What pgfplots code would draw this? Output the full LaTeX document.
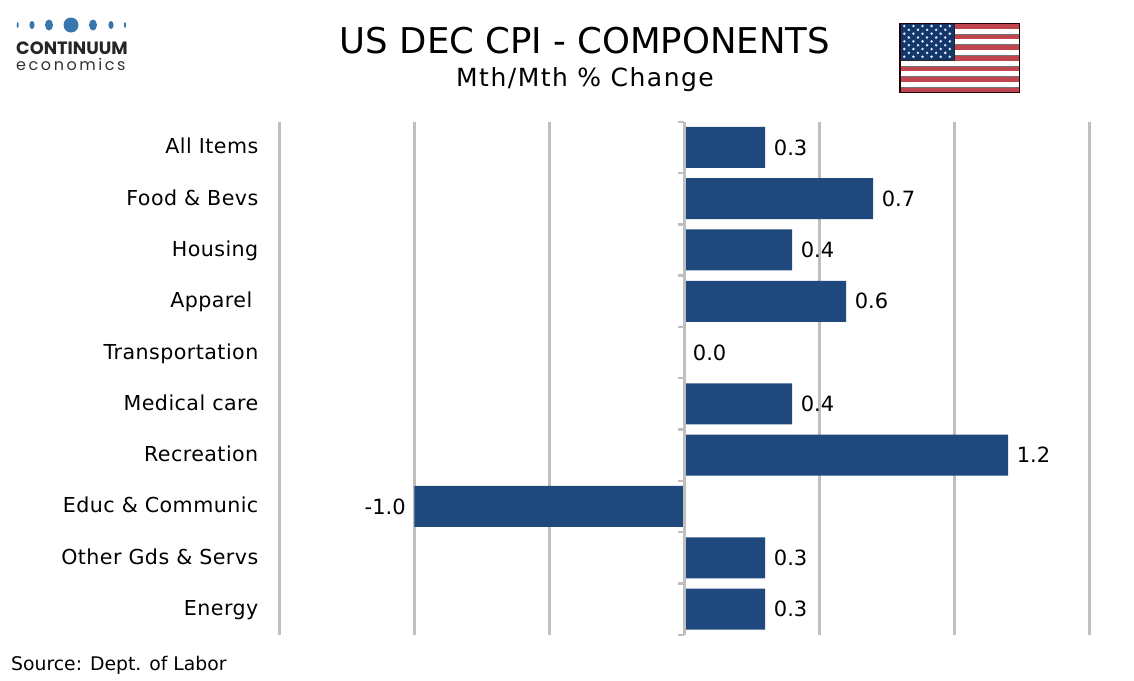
\documentclass[border=0pt]{standalone}
\usepackage{pgfplots}
\pgfplotsset{compat=1.18}
\usepackage{fontspec}
\setmainfont{DejaVu Sans}
\newfontfamily\catfont[LetterSpace=2.2]{DejaVu Sans}
\newfontfamily\logofont{Poppins}
\newfontfamily\logolight[LetterSpace=16]{Poppins}
\definecolor{barblue}{HTML}{1F497D}
\definecolor{gridgray}{HTML}{BFBFBF}
\definecolor{logoblue}{HTML}{3A76AE}
\definecolor{flagred}{HTML}{C0454F}
\definecolor{flagblue}{HTML}{14376A}
\newcommand{\fs}[1]{\fontsize{#1}{#1}\selectfont}
\begin{document}
\begin{tikzpicture}[x=1pt,y=1pt]
\useasboundingbox (0,0) rectangle (1134,-680);
% logo
\foreach \cx/\rx/\ry in {17.7/1/3,32/2.6/4,49/4/5.5,71/7.5/7.5,93/4/5.5,111/2.6/4,125/1/3}
  \fill[logoblue] (\cx,-25) ellipse [x radius=\rx, y radius=\ry];
\node[anchor=base west,inner sep=0pt,text=black!85] at (16,-54) {\logofont\fs{17.8}\textbf{CONTINUUM}};
\node[anchor=base west,inner sep=0pt,text=black!80] at (16,-70) {\logolight\fs{16}economics};
% titles
\node[anchor=base,inner sep=0pt] at (585,-53) {\fs{35.5}US DEC CPI - COMPONENTS};
\node[anchor=base,inner sep=0pt] at (585,-86) {\addfontfeatures{LetterSpace=6}\fs{25}Mth/Mth \% Change};
% flag
\fill[white] (900,-23.3) rectangle (1019.5,-92.5);
\foreach \i in {0,2,4,6,8,10,12}
  \fill[flagred] (900,{-23.3-\i*5.323}) rectangle (1019.5,{-23.3-(\i+1)*5.323});
\foreach \i in {2,4,6,8,10,12}
  \draw[black!55,line width=0.7pt] (900,{-23.3-\i*5.323}) -- (1019.5,{-23.3-\i*5.323});
\fill[flagblue] (900,-23.3) rectangle (954,-60.5);
\foreach \r in {0,2,4,6,8} \foreach \c in {0,...,5}
  \fill[white!90!blue] ({904.3+\c*9.1},{-26-\r*3.84}) circle (1.4);
\foreach \r in {1,3,5,7} \foreach \c in {0,...,4}
  \fill[white!90!blue] ({908.85+\c*9.1},{-26-\r*3.84}) circle (1.4);
\draw[black!85!red,line width=1.2pt] (900,-23.3) rectangle (1019.5,-92.5);
\draw[black!85,line width=0.8pt] (954,-23.3) -- (954,-60.5) -- (900,-60.5);
% main axis
\begin{axis}[
  at={(279.5pt,-634.7pt)},anchor=south west,
  scale only axis,width=809.5pt,height=513pt,
  xbar,bar width=41pt,
  xmin=-1.5,xmax=1.5,ymin=-0.5,ymax=9.5,y dir=reverse,
  axis line style={draw=none},
  xtick={-1.5,-1,-0.5,0,0.5,1,1.5},xticklabels={},
  grid=none,xmajorgrids=true,
  major grid style={draw=gridgray,line width=3pt},
  major tick length=0pt,
  ytick={0,...,9},
  yticklabels={All Items,Food \& Bevs,Housing,Apparel\hspace{6pt}\mbox{},Transportation,Medical care,Recreation,Educ \& Communic,Other Gds \& Servs,Energy},
  yticklabel style={anchor=base east,inner sep=0pt,font=\catfont\fs{20.6},xshift=-21pt,yshift=-6.5pt},
  point meta=x,
  /pgf/number format/fixed,
  /pgf/number format/fixed zerofill,
  /pgf/number format/precision=1,
  /pgf/number format/assume math mode=true,
  nodes near coords,
  nodes near coords style={font=\fs{21},inner ysep=0pt,inner xsep=8.5pt},
]
\addplot[fill=barblue,draw=none] coordinates {
(0.3,0) (0.7,1) (0.4,2) (0.6,3) (0.0,4) (0.4,5) (1.2,6) (-1.0,7) (0.3,8) (0.3,9)};
\end{axis}
% axis line on top of the bars
\begin{axis}[
  at={(279.5pt,-634.7pt)},anchor=south west,
  scale only axis,width=809.5pt,height=513pt,
  xmin=-1.5,xmax=1.5,ymin=0,ymax=10,y dir=reverse,
  axis x line=none,axis y line=center,
  axis line style={draw=gridgray,line width=3pt,-},
  ytick={0,...,10},yticklabels={},
  tick align=outside,major tick length=6pt,
  tick style={draw=gridgray,line width=2.4pt},
]
\end{axis}
% source
\node[anchor=base west,inner sep=0pt] at (11,-670) {\fs{18.8}Source: Dept. of Labor};
\end{tikzpicture}
\end{document}
